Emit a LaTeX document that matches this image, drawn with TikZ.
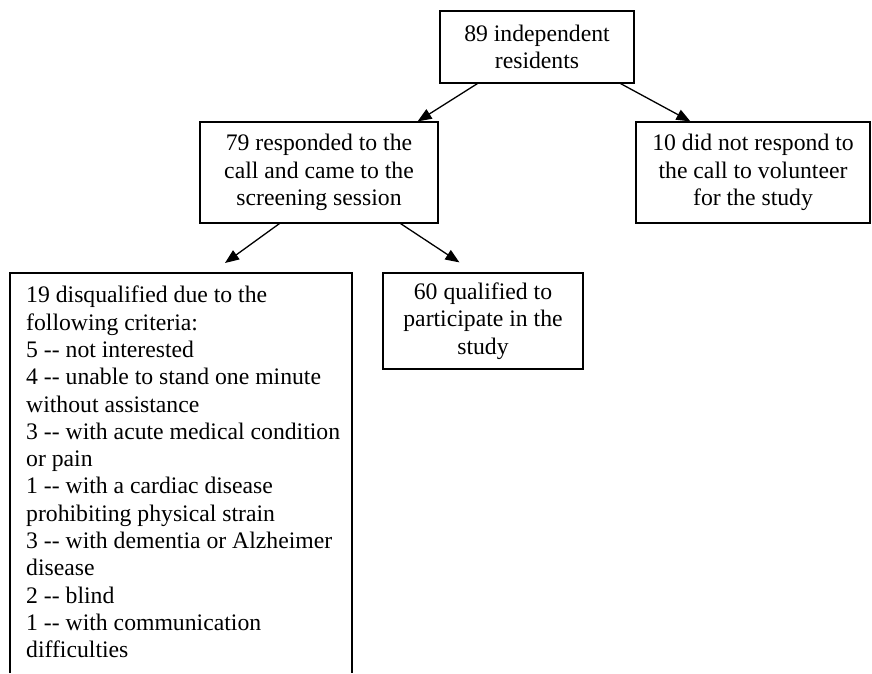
\documentclass[tikz,border=0pt]{standalone}
\usepackage{fontspec}
\setmainfont{Liberation Serif}
\usetikzlibrary{arrows.meta,calc}
\begin{document}
\begin{tikzpicture}[x=1pt,y=1pt,
  txt/.style={font=\fontsize{23.7}{27.3}\selectfont, inner sep=0pt},
  box/.style={txt, draw, line width=1.2pt, align=center},
  frame/.style={line width=1.2pt},
  arr/.style={line width=1.3pt, -{Triangle[length=14pt,width=11pt]}}]
\useasboundingbox (0,0) rectangle (872,673);
\fill[white] (0,0) rectangle (872,673);
\node[box, minimum width=194pt, minimum height=72pt] (top) at (537,626) {89 independent\\residents};
\node[box, minimum width=238pt, minimum height=101pt] (r79) at (319,500.5) {79 responded to the\\call and came to the\\screening session};
\node[box, minimum width=234pt, minimum height=101pt] (r10) at (753,500.5) {10 did not respond to\\the call to volunteer\\for the study};
\node[box, minimum width=200pt, minimum height=96pt] (q60) at (483,352) {60 qualified to\\participate in the\\study};

\coordinate (dqTL) at (10,400);
\coordinate (dqTR) at (352,400);
\coordinate (dqBL) at (10,0);
\coordinate (dqBR) at (352,0);
\draw[frame] (dqBL) -- (dqTL) -- (dqTR) -- (dqBR);
\node[txt, align=left, anchor=north west] (dq) at ($(dqTL)+(16,-13)$) {19 disqualified due to the\\following criteria:\\5 -{}- not interested\\4 -{}- unable to stand one minute\\without assistance\\3 -{}- with acute medical condition\\or pain\\1 -{}- with a cardiac disease\\prohibiting physical strain\\3 -{}- with dementia or Alzheimer\\disease\\2 -{}- blind\\1 -{}- with communication\\difficulties};

\draw[arr] ($(top.south west)+(38,0)$) -- ($(r79.north east)+(-21,0)$);
\draw[arr] ($(top.south east)+(-14,0)$) -- ($(r10.north west)+(55,0)$);
\draw[arr] ($(r79.south west)+(80,0)$) -- ($(dqTL)+(215,10)$);
\draw[arr] ($(r79.south east)+(-38,0)$) -- ($(q60.north west)+(77,10)$);
\end{tikzpicture}
\end{document}
